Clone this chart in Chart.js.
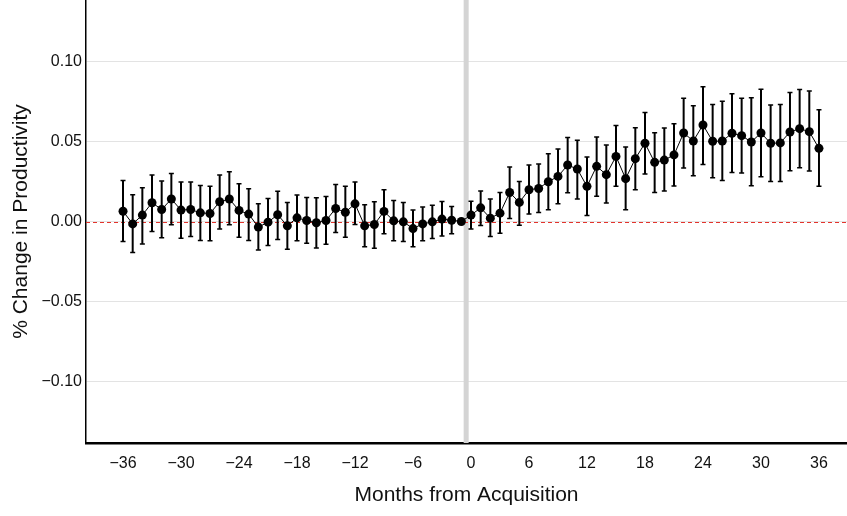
<!DOCTYPE html>
<html><head><meta charset="utf-8">
<script src="https://cdn.jsdelivr.net/npm/chart.js@4/dist/chart.umd.min.js"></script>
<style>html,body{margin:0;padding:0;background:#fff}canvas{display:block}</style>
</head><body>
<canvas id="c" width="847" height="516"></canvas>
<script>
const months = [-36,-35,-34,-33,-32,-31,-30,-29,-28,-27,-26,-25,-24,-23,-22,-21,-20,-19,-18,-17,-16,-15,-14,-13,-12,-11,-10,-9,-8,-7,-6,-5,-4,-3,-2,-1,0,1,2,3,4,5,6,7,8,9,10,11,12,13,14,15,16,17,18,19,20,21,22,23,24,25,26,27,28,29,30,31,32,33,34,35,36];
const estimate = [0.0064,-0.0015,0.0040,0.0117,0.0075,0.0140,0.0071,0.0075,0.0054,0.0050,0.0123,0.0140,
 0.0069,0.0046,-0.0035,-0.0004,0.0042,-0.0027,0.0023,0.0006,-0.0008,0.0006,0.0081,0.0058,
 0.0110,-0.0027,-0.0019,0.0063,0.0004,-0.0002,-0.0044,-0.0015,-0.0002,0.0015,0.0008,0.0000,
 0.0040,0.0085,0.0021,0.0052,0.0181,0.0119,0.0198,0.0206,0.0248,0.0281,0.0352,0.0327,
 0.0219,0.0344,0.0292,0.0406,0.0267,0.0392,0.0488,0.0369,0.0383,0.0415,0.0552,0.0502,
 0.0602,0.0500,0.0502,0.0550,0.0535,0.0496,0.0552,0.0488,0.0490,0.0558,0.0579,0.0560,0.0456];
const lower = [-0.0125,-0.0194,-0.0140,-0.0063,-0.0102,-0.0020,-0.0104,-0.0094,-0.0119,-0.0120,-0.0046,-0.0020,
 -0.0098,-0.0119,-0.0177,-0.0150,-0.0113,-0.0173,-0.0120,-0.0135,-0.0165,-0.0142,-0.0069,-0.0098,
 -0.0019,-0.0158,-0.0167,-0.0077,-0.0120,-0.0125,-0.0158,-0.0120,-0.0106,-0.0090,-0.0077,null,
 -0.0046,-0.0025,-0.0094,-0.0073,0.0019,-0.0023,0.0046,0.0056,0.0073,0.0110,0.0179,0.0140,
 0.0038,0.0158,0.0115,0.0219,0.0073,0.0198,0.0296,0.0181,0.0190,0.0221,0.0333,0.0286,
 0.0356,0.0273,0.0256,0.0306,0.0302,0.0223,0.0279,0.0250,0.0250,0.0317,0.0335,0.0315,0.0219];
const upper = [0.0256,0.0167,0.0210,0.0290,0.0252,0.0300,0.0246,0.0246,0.0225,0.0220,0.0290,0.0310,
 0.0235,0.0204,0.0110,0.0144,0.0188,0.0119,0.0165,0.0150,0.0148,0.0156,0.0231,0.0219,
 0.0246,0.0104,0.0123,0.0198,0.0131,0.0119,0.0071,0.0090,0.0102,0.0125,0.0094,null,
 0.0127,0.0190,0.0140,0.0181,0.0340,0.0250,0.0352,0.0358,0.0423,0.0452,0.0523,0.0506,
 0.0402,0.0527,0.0477,0.0598,0.0465,0.0585,0.0679,0.0554,0.0583,0.0610,0.0769,0.0721,
 0.0840,0.0729,0.0750,0.0796,0.0769,0.0771,0.0825,0.0727,0.0729,0.0804,0.0823,0.0813,0.0696];
const xTickValues = [-36,-30,-24,-18,-12,-6,0,6,12,18,24,30,36];
const yTickValues = [-0.10,-0.05,0.00,0.05,0.10];
const eventMonth = -0.5;

const fmtMinus = s => s.replace('-', '\u2212');

const overlay = {
  id: 'overlay',
  beforeDatasetsDraw(chart) {
    const {ctx, chartArea: a, scales: {x, y}} = chart;
    ctx.save();
    const bx = x.getPixelForValue(eventMonth);
    ctx.fillStyle = '#d4d4d4';
    ctx.fillRect(bx - 2.5, a.top, 5, a.bottom - a.top);
    const zy = Math.round(y.getPixelForValue(0)) + 0.5;
    ctx.strokeStyle = '#e3342c';
    ctx.lineWidth = 1;
    ctx.setLineDash([4, 3]);
    ctx.beginPath(); ctx.moveTo(a.left, zy); ctx.lineTo(a.right, zy); ctx.stroke();
    ctx.setLineDash([]);
    ctx.strokeStyle = '#000';
    months.forEach((m, i) => {
      if (lower[i] == null || upper[i] == null) return;
      const px = x.getPixelForValue(m);
      const p1 = y.getPixelForValue(lower[i]);
      const p2 = y.getPixelForValue(upper[i]);
      ctx.lineWidth = 2;
      ctx.beginPath(); ctx.moveTo(px, p1); ctx.lineTo(px, p2); ctx.stroke();
      ctx.lineWidth = 1.5;
      ctx.beginPath();
      ctx.moveTo(px - 2.5, p1); ctx.lineTo(px + 2.5, p1);
      ctx.moveTo(px - 2.5, p2); ctx.lineTo(px + 2.5, p2);
      ctx.stroke();
    });
    ctx.restore();
  }
};

const tickFont = {family: '"Liberation Sans", Arial, sans-serif', size: 16};
const titleFont = {family: '"Liberation Sans", Arial, sans-serif', size: 21};

new Chart(document.getElementById('c'), {
  type: 'line',
  data: {
    datasets: [{
      data: months.map((m, i) => ({x: m, y: estimate[i]})),
      borderColor: '#000',
      borderWidth: 1,
      pointRadius: 4.5,
      pointBackgroundColor: '#000',
      pointBorderColor: '#000',
      pointBorderWidth: 0,
      tension: 0
    }]
  },
  options: {
    responsive: false,
    animation: false,
    devicePixelRatio: 1,
    layout: {padding: 0, autoPadding: false},
    plugins: {legend: {display: false}, tooltip: {enabled: false}},
    scales: {
      x: {
        type: 'linear',
        min: -39.83,
        max: 38.9,
        afterBuildTicks: s => { s.ticks = xTickValues.map(v => ({value: v})); },
        afterFit: s => { s.height = 73; s.paddingLeft = 0; s.paddingRight = 0; },
        grid: {display: false, drawTicks: false},
        border: {display: true, color: '#000', width: 2.5},
        ticks: {
          font: tickFont, color: '#111', padding: 11, maxRotation: 0, autoSkip: false,
          callback: v => fmtMinus(String(v))
        },
        title: {display: true, text: 'Months from Acquisition', font: titleFont, color: '#111', padding: {top: 4, bottom: 8}}
      },
      y: {
        min: -0.1381,
        max: 0.1381,
        afterBuildTicks: s => { s.ticks = yTickValues.map(v => ({value: v})); },
        afterFit: s => { s.width = 86; s.paddingTop = 0; s.paddingBottom = 0; },
        grid: {color: '#e3e3e3', lineWidth: 1, drawTicks: false},
        border: {display: true, color: '#000', width: 1.5},
        ticks: {
          font: tickFont, color: '#111', padding: 4,
          callback: v => fmtMinus(Number(v).toFixed(2))
        },
        title: {display: true, text: '% Change in Productivity', font: titleFont, color: '#111', padding: {top: 9, bottom: 0}}
      }
    }
  },
  plugins: [overlay]
});
</script>
</body></html>
